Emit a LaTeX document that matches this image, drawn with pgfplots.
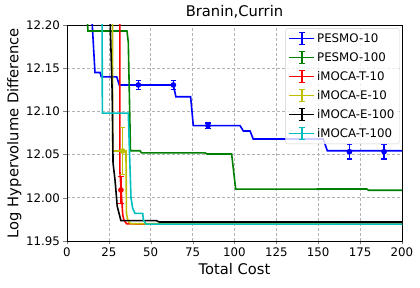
\documentclass[border=0pt]{standalone}
\usepackage{pgfplots}
\pgfplotsset{compat=1.18}
\usepackage{fontspec}
\setmainfont{DejaVu Sans}
\definecolor{mb}{RGB}{0,0,255}
\definecolor{mg}{RGB}{0,128,0}
\definecolor{mr}{RGB}{255,0,0}
\definecolor{my}{RGB}{191,191,0}
\definecolor{mk}{RGB}{0,0,0}
\definecolor{mc}{RGB}{0,191,191}
\pgfplotsset{
  ebleg/.style={legend image code/.code={
    \draw[##1,line width=1.6pt,solid] (0pt,0pt) -- (25pt,0pt);
    \draw[##1,line width=1.6pt,solid] (12.5pt,-6pt) -- (12.5pt,6pt);
    \draw[##1,line width=1.6pt,solid] (9.7pt,-6pt) -- (15.3pt,-6pt);
    \draw[##1,line width=1.6pt,solid] (9.7pt,6pt) -- (15.3pt,6pt);
  }},
  eb/.style={only marks, mark=none, forget plot,
    error bars/.cd, y dir=both, y explicit,
    error bar style={line width=1.4pt, solid},
    error mark options={rotate=90, mark size=2.8pt, line width=1.4pt}},
}
\begin{document}
\begin{tikzpicture}
\begin{axis}[
  name=ax,
  scale only axis,
  width=335pt, height=216pt,
  xmin=0, xmax=200, ymin=11.95, ymax=12.20,
  xtick={0,25,...,200},
  ytick={11.95,12.00,12.05,12.10,12.15,12.20},
  yticklabel style={/pgf/number format/.cd, fixed, fixed zerofill, precision=2},
  /pgf/number format/assume math mode=true,
  ticklabel style={font=\fontsize{11.8}{13}\selectfont},
  label style={font=\fontsize{14.7}{17}\selectfont},
  title style={font=\fontsize{14.7}{17}\selectfont, yshift=-3pt},
  title={Branin,Currin},
  xlabel={Total Cost},
  ylabel={Log Hypervolume Difference},
  ylabel style={yshift=-2pt},
  tick align=outside, tick pos=left,
  major tick length=3.5pt,
  axis line style={line width=0.9pt},
  grid=major,
  grid style={gray!60, dash pattern=on 3pt off 2pt, line width=0.7pt},
  clip=true,
  legend cell align=left,
  legend style={at={(0.993,0.985)}, anchor=north east, draw=gray!35,
    rounded corners=2pt, fill=white, fill opacity=0.8, text opacity=1,
    font=\fontsize{11.8}{13}\selectfont, row sep=4.6pt, inner sep=3pt},
  every axis plot/.append style={line width=1.6pt},
]
% PESMO-10
\addplot[mb, ebleg] coordinates {
(14.8,12.21) (16.7,12.145) (19.7,12.145) (20.5,12.140) (29.7,12.140) (31.2,12.1306)
(63.5,12.1306) (65,12.117) (73.8,12.117) (75.4,12.0835) (103.3,12.0835) (105.3,12.0773)
(109.3,12.0773) (111.2,12.068) (153,12.068) (155.4,12.0545) (200,12.0545)};
\addlegendentry{PESMO-10}
% PESMO-100
\addplot[mg, ebleg] coordinates {
(12.0,12.21) (12.5,12.193) (35.8,12.193) (36.6,12.18) (37.9,12.0545) (43.6,12.0545)
(44.5,12.052) (82.4,12.052) (83.5,12.0507) (98.3,12.0507) (100.7,12.010) (179,12.0102)
(180,12.0087) (200,12.0087)};
\addlegendentry{PESMO-100}
% iMOCA-T-10
\addplot[mr, ebleg] coordinates {
(31.6,12.25) (31.6,12.03) (32.3,12.009) (33.3,11.98) (34,11.974) (35.6,11.970)
(45,11.9695) (200,11.9695)};
\addlegendentry{iMOCA-T-10}
% iMOCA-E-10
\addplot[my, ebleg] coordinates {
(27.2,12.25) (27.2,12.0542) (35.2,12.0542) (35.5,11.982) (36.2,11.975) (37,11.972)
(38,11.970) (200,11.9695)};
\addlegendentry{iMOCA-E-10}
% iMOCA-E-100
\addplot[mk, ebleg] coordinates {
(25.7,12.21) (27,12.12) (27.5,12.04) (28.7,12.02) (30,11.99) (32.2,11.9735)
(53.5,11.9735) (55,11.972) (200,11.972)};
\addlegendentry{iMOCA-E-100}
% iMOCA-T-100
\addplot[mc, ebleg] coordinates {
(20.9,12.25) (21.1,12.098) (36.6,12.098) (37.2,12.06) (38.2,12.0) (39.2,11.988)
(40.6,11.982) (45.2,11.982) (45.6,11.9745) (47.2,11.9695) (200,11.9695)};
\addlegendentry{iMOCA-T-100}
% error bars
\addplot[mb, eb] coordinates {
(42.6,12.1306) +- (0,0.0054)
(63.5,12.1306) +- (0,0.0054)
(84.2,12.0835) +- (0,0.003)
(168.6,12.0533) +- (0,0.0085)
(189.3,12.0533) +- (0,0.0085)};
\addplot[mr, eb] coordinates {
(32.2,12.009) +- (0,0.0154)};
\addplot[my, eb] coordinates {
(33.2,12.0542) +- (0,0.027)};
\end{axis}
\pgfresetboundingbox
\path[use as bounding box] ([xshift=-67pt,yshift=-47pt]ax.south west) rectangle ([xshift=18pt,yshift=25pt]ax.north east);
\end{tikzpicture}
\end{document}
